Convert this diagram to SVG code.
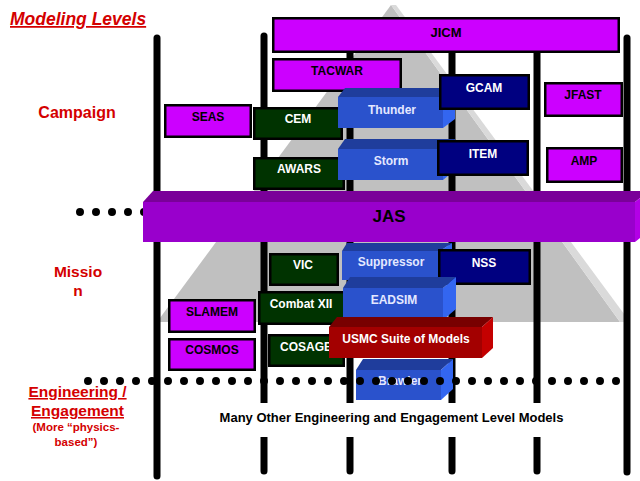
<svg xmlns="http://www.w3.org/2000/svg" width="640" height="481" viewBox="0 0 640 481">
<style>
.bx{stroke:#000;stroke-width:2.5}
.mag{fill:#cc00ff}
.grn{fill:#003300}
.nav{fill:#000080}
.vl{stroke:#000;stroke-width:7;stroke-linecap:round;fill:none}
.dots{stroke:#000;stroke-width:8;stroke-linecap:round;stroke-dasharray:0 16;fill:none}
.t{font-family:"Liberation Sans",Arial,sans-serif;font-weight:bold;font-size:12px;text-anchor:middle}
.k{fill:#000}
.w{fill:#fff}
.l{fill:#e4e8ff}
.red{font-family:"Liberation Sans",Arial,sans-serif;font-weight:bold;fill:#d40000;text-anchor:middle}
.bf{fill:#2a52cc}.bt{fill:#1f3d9c}.bs{fill:#3366f0}
.jf{fill:#9900cc}.jt{fill:#7a0099}.js{fill:#b300e6}
.rf{fill:#a30000}.rt{fill:#780000}.rs{fill:#c40000}
</style>
<rect width="640" height="481" fill="#fff"/>
<g id="pyramid">
<polygon points="391,5 157,322 620,322" fill="#c0c0c0"/>
<polygon points="391,5 620,322 630,322 396,5" fill="#dadada"/>
</g>
<g id="connectors">
<line class="vl" x1="157" y1="38" x2="157" y2="476"/>
<line class="vl" x1="264" y1="36" x2="264" y2="471"/>
<line class="vl" x1="350" y1="40" x2="350" y2="471"/>
<line class="vl" x1="452" y1="40" x2="452" y2="471"/>
<line class="vl" x1="537" y1="40" x2="537" y2="471"/>
<line class="vl" x1="627" y1="38" x2="627" y2="472"/>
<line class="dots" x1="80" y1="212" x2="145" y2="212"/>
</g>
<rect x="205" y="403" width="372" height="34" fill="#fff"/>
<g id="JICM"><rect class="bx mag" x="273.25" y="18.25" width="345.5" height="33.5"/><text class="t k" x="446" y="36.5" style="font-size:13px">JICM</text></g>
<g id="TACWAR"><rect class="bx mag" x="273.25" y="59.25" width="127.5" height="31.5"/><text class="t k" x="337" y="75">TACWAR</text></g>
<g id="SEAS"><rect class="bx mag" x="165.25" y="105.25" width="85.5" height="31.5"/><text class="t k" x="208" y="121">SEAS</text></g>
<g id="CEM"><rect class="bx grn" x="254.25" y="108.25" width="87.5" height="30.5"/><text class="t w" x="298" y="123">CEM</text></g>
<g id="Thunder">
<polygon class="bt" points="338,97 345,88 455,88 443,97"/>
<polygon class="bs" points="443,97 455,88 455,119 443,128"/>
<rect class="bf" x="338" y="97" width="105" height="31"/>
<text class="t l" x="392" y="114">Thunder</text></g>
<g id="GCAM"><rect class="bx nav" x="440.25" y="75.25" width="88.5" height="33.5"/><text class="t w" x="484" y="92">GCAM</text></g>
<g id="AWARS"><rect class="bx grn" x="254.25" y="158.25" width="89.5" height="30.5"/><text class="t w" x="299" y="173">AWARS</text></g>
<g id="Storm">
<polygon class="bt" points="338,149 345,139 455,139 443,149"/>
<polygon class="bs" points="443,149 455,139 455,170 443,180"/>
<rect class="bf" x="338" y="149" width="105" height="31"/>
<text class="t l" x="391" y="165">Storm</text></g>
<g id="ITEM"><rect class="bx nav" x="438.25" y="141.25" width="89.5" height="33.5"/><text class="t w" x="483" y="158">ITEM</text></g>
<g id="JFAST"><rect class="bx mag" x="545.25" y="83.25" width="76.5" height="32.5"/><text class="t k" x="583" y="99">JFAST</text></g>
<g id="AMP"><rect class="bx mag" x="547.25" y="148.25" width="74.5" height="33.5"/><text class="t k" x="584" y="165">AMP</text></g>
<g id="JAS">
<polygon class="jt" points="143,202 153,191 649,191 635,202"/>
<polygon class="js" points="635,202 649,191 649,231 635,242"/>
<rect class="jf" x="143" y="202" width="492" height="40"/>
<text class="t k" x="389" y="222" style="font-size:17px">JAS</text></g>
<g id="VIC"><rect class="bx grn" x="270.25" y="254.25" width="67.5" height="30.5"/><text class="t w" x="303" y="269">VIC</text></g>
<g id="Suppressor">
<polygon class="bt" points="342,251 347,243 452,243 440,251"/>
<polygon class="bs" points="440,251 452,243 452,272 440,280"/>
<rect class="bf" x="342" y="251" width="98" height="29"/>
<text class="t l" x="391" y="266">Suppressor</text></g>
<g id="NSS"><rect class="bx nav" x="439.25" y="250.25" width="90.5" height="33.5"/><text class="t w" x="484" y="267">NSS</text></g>
<g id="CombatXII"><rect class="bx grn" x="259.25" y="292.25" width="85.5" height="31.5"/><text class="t w" x="301" y="308">Combat XII</text></g>
<g id="EADSIM">
<polygon class="bt" points="343,288 350,277 456,277 443,288"/>
<polygon class="bs" points="443,288 456,277 456,309 443,320"/>
<rect class="bf" x="343" y="288" width="100" height="32"/>
<text class="t l" x="394" y="304">EADSIM</text></g>
<g id="SLAMEM"><rect class="bx mag" x="169.25" y="300.25" width="85.5" height="31.5"/><text class="t k" x="212" y="316">SLAMEM</text></g>
<g id="COSMOS"><rect class="bx mag" x="169.25" y="339.25" width="85.5" height="30.5"/><text class="t k" x="212" y="354">COSMOS</text></g>
<g id="COSAGE"><rect class="bx grn" x="269.25" y="335.25" width="74.5" height="30.5"/><text class="t w" x="306" y="351">COSAGE</text></g>
<g id="Brawler">
<polygon class="bt" points="356,370 363,359 453,359 441,370"/>
<polygon class="bs" points="441,370 453,359 453,389 441,400"/>
<rect class="bf" x="356" y="370" width="85" height="30"/>
<text class="t l" x="400" y="385">Brawler</text></g>
<g id="USMC">
<polygon class="rt" points="329,327 337,317 493,317 482,327"/>
<polygon class="rs" points="482,327 493,317 493,348 482,358"/>
<rect class="rf" x="329" y="327" width="153" height="31"/>
<text class="t w" x="406" y="343">USMC Suite of Models</text></g>
<g id="dots-lower"><line class="dots" x1="88" y1="381" x2="617" y2="381"/></g>
<g id="labels">
<text x="10" y="25" style="font-family:'Liberation Sans',Arial,sans-serif;font-weight:bold;font-style:italic;font-size:17.5px;fill:#d40000;text-decoration:underline">Modeling Levels</text>
<text class="red" x="77" y="118" style="font-size:16px">Campaign</text>
<text class="red" x="78" y="277" style="font-size:15.5px">Missio</text>
<text class="red" x="78" y="296" style="font-size:15.5px">n</text>
<text class="red" x="77.5" y="397" style="font-size:15.5px;text-decoration:underline">Engineering /</text>
<text class="red" x="77.5" y="416" style="font-size:15.5px;text-decoration:underline">Engagement</text>
<text class="red" x="76" y="431" style="font-size:11.5px">(More “physics-</text>
<text class="red" x="76" y="446" style="font-size:11.5px">based”)</text>
<text class="t k" x="391.5" y="422" style="font-size:13px">Many Other Engineering and Engagement Level Models</text>
</g>
</svg>
